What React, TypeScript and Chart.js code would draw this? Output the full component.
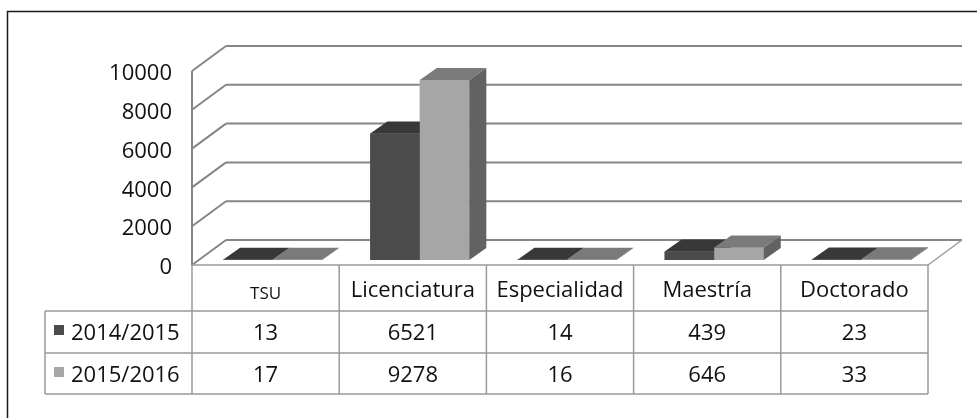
import React, { useEffect, useRef } from 'react';
import { Chart, registerables } from 'chart.js';

Chart.register(...registerables);

const categories = ['TSU', 'Licenciatura', 'Especialidad', 'Maestría', 'Doctorado'];
const seriesNames = ['2014/2015', '2015/2016'];
const values2014 = [13, 6521, 14, 439, 23];
const values2015 = [17, 9278, 16, 646, 33];
const yMin = 0;
const yMax = 10000;
const yStep = 2000;

const FONT = '"Open Sans", sans-serif';
const FRONT = ['#4b4b4b', '#a6a6a6'];
const TOP = ['#383838', '#7a7a7a'];
const SIDE = ['#2e2e2e', '#626262'];

// 3D geometry relative to the bar plane (chart area)
const FLOOR = { dx: -7, dy: 5 };
const BACK = { dx: 27, dy: -20 };
const DEPTH = { dx: 17, dy: -12 };

const ROW_EDGES = [311, 353, 394];
const LEGEND_LEFT = 45;

function line(ctx: CanvasRenderingContext2D, x1: number, y1: number, x2: number, y2: number) {
  ctx.beginPath();
  ctx.moveTo(x1, y1);
  ctx.lineTo(x2, y2);
  ctx.stroke();
}

function poly(ctx: CanvasRenderingContext2D, pts: number[][], fill: string) {
  ctx.beginPath();
  ctx.moveTo(pts[0][0], pts[0][1]);
  for (let i = 1; i < pts.length; i++) ctx.lineTo(pts[i][0], pts[i][1]);
  ctx.closePath();
  ctx.fillStyle = fill;
  ctx.fill();
}

const threeD = {
  id: 'threeD',
  beforeDatasetsDraw(chart: any) {
    const { ctx, chartArea, scales } = chart;
    const y = scales.y;
    const fL = chartArea.left + FLOOR.dx;
    const fR = chartArea.right + FLOOR.dx;
    const bL = chartArea.left + BACK.dx;
    const bR = chartArea.right + BACK.dx;
    ctx.save();
    ctx.strokeStyle = '#868686';
    ctx.lineWidth = 2;
    for (const t of y.ticks) {
      const yp = y.getPixelForValue(t.value);
      line(ctx, bL, yp + BACK.dy, bR, yp + BACK.dy);
      line(ctx, fL, yp + FLOOR.dy, bL, yp + BACK.dy);
    }
    const yTop = y.getPixelForValue(yMax);
    const y0 = y.getPixelForValue(yMin);
    line(ctx, fL, yTop + FLOOR.dy, fL, y0 + FLOOR.dy);
    ctx.strokeStyle = '#9a9a9a';
    ctx.lineWidth = 1.5;
    line(ctx, fL, y0 + FLOOR.dy, fR, y0 + FLOOR.dy);
    line(ctx, fR, y0 + FLOOR.dy, bR, y0 + BACK.dy);
    ctx.restore();
  },
  afterDatasetsDraw(chart: any) {
    const { ctx } = chart;
    ctx.save();
    const n = chart.data.labels.length;
    for (let j = 0; j < n; j++) {
      for (let i = 0; i < chart.data.datasets.length; i++) {
        const el = chart.getDatasetMeta(i).data[j];
        const p = el.getProps(['x', 'y', 'base', 'width'], true);
        const l = p.x - p.width / 2;
        const r = p.x + p.width / 2;
        const top = Math.min(p.y, p.base);
        const bot = Math.max(p.y, p.base);
        poly(ctx, [[l, top], [r, top], [r, bot], [l, bot]], FRONT[i]);
        poly(ctx, [[l, top], [l + DEPTH.dx, top + DEPTH.dy], [r + DEPTH.dx, top + DEPTH.dy], [r, top]], TOP[i]);
        poly(ctx, [[r, top], [r + DEPTH.dx, top + DEPTH.dy], [r + DEPTH.dx, bot + DEPTH.dy], [r, bot]], SIDE[i]);
      }
    }
    ctx.restore();
  },
  afterDraw(chart: any) {
    const { ctx, scales } = chart;
    const x = scales.x;
    const y = scales.y;
    const n = chart.data.labels.length;
    const edges: number[] = [];
    for (let k = 0; k <= n; k++) edges.push(x.getPixelForValue(k - 0.5) + FLOOR.dx);
    const headTop = y.getPixelForValue(yMin) + FLOOR.dy;
    ctx.save();
    ctx.strokeStyle = '#9a9a9a';
    ctx.lineWidth = 1.5;
    for (let k = 0; k <= n; k++) line(ctx, edges[k], headTop, edges[k], ROW_EDGES[2]);
    line(ctx, LEGEND_LEFT, ROW_EDGES[0], LEGEND_LEFT, ROW_EDGES[2]);
    for (const ry of ROW_EDGES) line(ctx, LEGEND_LEFT, ry, edges[n], ry);
    ctx.font = `22px ${FONT}`;
    ctx.textBaseline = 'middle';
    const rowTops = [ROW_EDGES[0], ROW_EDGES[1]];
    const rowBots = [ROW_EDGES[1], ROW_EDGES[2]];
    chart.data.datasets.forEach((ds: any, i: number) => {
      const cy = (rowTops[i] + rowBots[i]) / 2 + 2;
      ctx.fillStyle = FRONT[i];
      ctx.fillRect(LEGEND_LEFT + 9, rowTops[i] + 14, 10, 10);
      ctx.fillStyle = '#111';
      ctx.textAlign = 'left';
      ctx.fillText(ds.label, LEGEND_LEFT + 26, cy);
      ctx.textAlign = 'center';
      ds.data.forEach((v: number, j: number) => {
        ctx.fillText(String(v), (edges[j] + edges[j + 1]) / 2, cy);
      });
    });
    ctx.strokeStyle = '#1a1a1a';
    ctx.lineWidth = 1.5;
    ctx.strokeRect(7.5, 11.5, 1200, 1200);
    ctx.restore();
  },
};

export default function App() {
  const ref = useRef<HTMLCanvasElement | null>(null);
  useEffect(() => {
    if (!ref.current) return;
    const chart = new Chart(ref.current, {
      type: 'bar',
      data: {
        labels: categories,
        datasets: [
          { label: seriesNames[0], data: values2014, backgroundColor: FRONT[0] },
          { label: seriesNames[1], data: values2015, backgroundColor: FRONT[1] },
        ],
      },
      options: {
        responsive: false,
        animation: false,
        devicePixelRatio: 1,
        layout: { padding: { left: 0, top: 66, right: 42, bottom: 0 } },
        datasets: { bar: { categoryPercentage: 0.673, barPercentage: 1 } },
        plugins: { legend: { display: false }, tooltip: { enabled: false }, title: { display: false } },
        scales: {
          x: {
            grid: { display: false, drawTicks: false },
            border: { display: false },
            ticks: {
              autoSkip: false,
              maxRotation: 0,
              padding: 18,
              labelOffset: FLOOR.dx,
              color: '#111',
              font: (c: any) =>
                c.index === 0
                  ? { family: FONT, size: 17, lineHeight: 1.85 }
                  : { family: FONT, size: 22, lineHeight: 1.2 },
            },
            afterFit: (s: any) => {
              s.height = 158;
            },
          },
          y: {
            min: yMin,
            max: yMax,
            grid: { display: false, drawTicks: false },
            border: { display: false },
            ticks: {
              stepSize: yStep,
              padding: 27,
              labelOffset: 8,
              color: '#111',
              font: { family: FONT, size: 22 },
              callback: (v: any) => String(v),
            },
            afterFit: (s: any) => {
              s.width = 199;
            },
          },
        },
      },
      plugins: [threeD],
    });
    return () => chart.destroy();
  }, []);
  return (
    <div style={{ position: 'fixed', left: 0, top: 0, width: 977, height: 418, background: '#fff' }}>
      <canvas ref={ref} width={977} height={418} style={{ width: 977, height: 418, display: 'block' }} />
    </div>
  );
}
